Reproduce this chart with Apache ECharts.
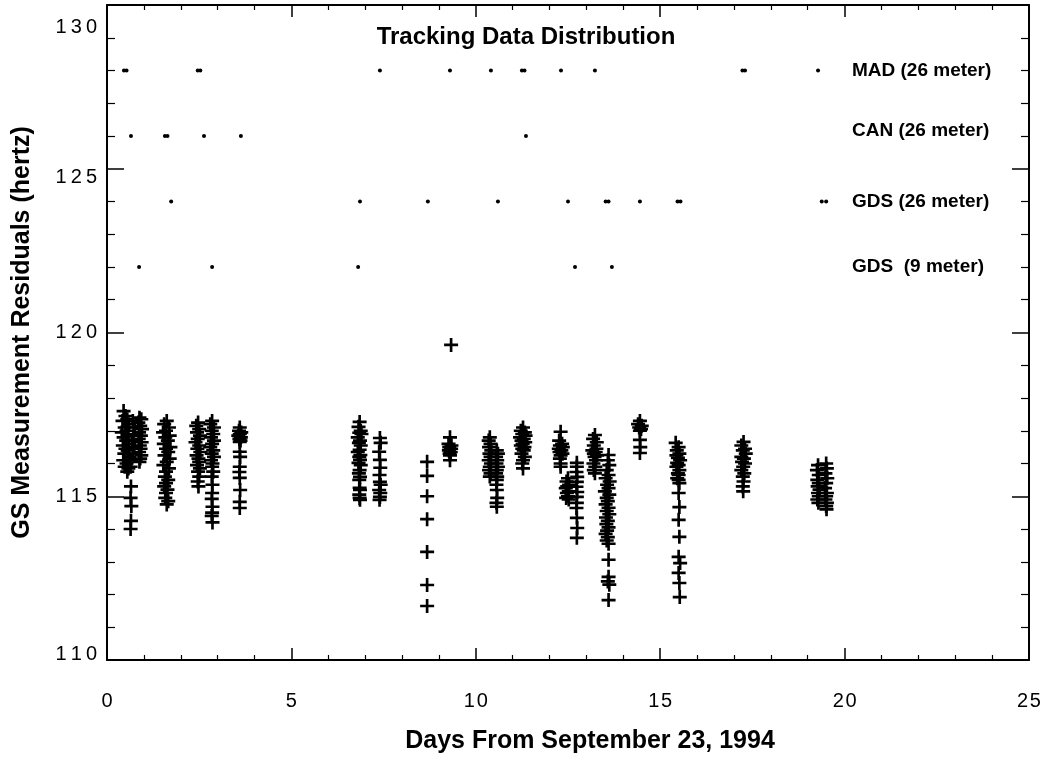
<!DOCTYPE html>
<html>
<head>
<meta charset="utf-8">
<script src="https://cdn.jsdelivr.net/npm/echarts@6/dist/echarts.min.js"></script>
<style>html,body{margin:0;padding:0;background:#fff;}#chart{width:1052px;height:761px;}</style>
</head>
<body>
<div id="chart"></div>
<script>
// ---- Data ----
var chartTitle = 'Tracking Data Distribution';
var xAxisTitle = 'Days From September 23, 1994';
var yAxisTitle = 'GS Measurement Residuals (hertz)';
var xTicks = [0, 5, 10, 15, 20, 25];
var yTicks = [110, 115, 120, 125, 130];

// station rows (dots): day of each pass, row level
var stationNames = ['MAD (26 meter)', 'CAN (26 meter)', 'GDS (26 meter)', 'GDS  (9 meter)'];
var stationLevels = [128, 126, 124, 122];
var stationLabelLevels = [128, 126.15, 124, 122];
var stationLabelDay = 20.2;
var madDays = [0.46, 0.53, 2.46, 2.53, 7.40, 9.30, 10.41, 11.25, 11.32, 12.31, 13.23, 17.23, 17.30, 19.28];
var canDays = [0.65, 1.57, 1.64, 2.63, 3.63, 11.36];
var gds26Days = [1.74, 6.86, 8.70, 10.60, 12.50, 13.52, 13.60, 14.45, 15.47, 15.55, 19.38, 19.50];
var gds9Days = [0.87, 2.85, 6.81, 12.69, 13.69];

// residuals [day, hertz], by pass
var c01 = [[0.45,117.6],[0.5,117.45],[0.55,117.35],[0.42,117.3],[0.6,117.2],[0.48,117.1],[0.53,117.0],[0.4,116.95],[0.58,116.85],[0.45,116.8],[0.52,116.7],[0.6,116.6],[0.43,116.55],[0.5,116.45],[0.56,116.4],[0.47,116.3],[0.6,116.2],[0.44,116.1],[0.53,116.0],[0.48,115.9],[0.58,115.85],[0.55,115.75],
  [0.88,117.4],[0.93,117.35],[0.85,117.25],[0.9,117.15],[0.95,117.05],[0.87,116.95],[0.92,116.85],[0.86,116.75],[0.94,116.65],[0.89,116.55],[0.91,116.45],[0.87,116.35],[0.93,116.25],[0.9,116.15],[0.88,116.05],
  [0.7,117.3],[0.75,117.1],[0.72,116.9],[0.68,116.7],[0.74,116.5],[0.7,116.3],[0.66,116.1],[0.64,115.9],
  [0.65,115.3],[0.64,114.95],[0.66,114.7],[0.65,114.25],[0.64,114.0]];
var c02 = [[1.62,117.3],[1.55,117.2],[1.68,117.1],[1.6,117.0],[1.52,116.95],[1.7,116.85],[1.58,116.8],[1.65,116.7],[1.54,116.6],[1.72,116.5],[1.6,116.45],[1.66,116.35],[1.56,116.25],[1.7,116.15],[1.62,116.05],[1.53,115.95],[1.68,115.85],[1.6,115.75],[1.57,115.6],[1.66,115.5],[1.6,115.4],[1.55,115.3],[1.64,115.2],[1.6,115.1],[1.58,114.95],[1.66,114.85],[1.62,114.75]];
var c03 = [[2.47,117.25],[2.42,117.15],[2.5,117.05],[2.44,116.95],[2.52,116.85],[2.46,116.75],[2.4,116.65],[2.5,116.55],[2.45,116.45],[2.53,116.35],[2.43,116.25],[2.48,116.15],[2.5,116.05],[2.44,115.95],[2.52,115.85],[2.47,115.75],[2.5,115.6],[2.46,115.45],[2.48,115.3]];
var c04 = [[2.85,117.3],[2.8,117.2],[2.9,117.1],[2.84,117.0],[2.88,116.9],[2.82,116.8],[2.9,116.7],[2.85,116.6],[2.8,116.5],[2.88,116.4],[2.84,116.3],[2.9,116.2],[2.82,116.1],[2.86,116.0],[2.85,115.9],[2.88,115.75],[2.84,115.6],[2.86,115.35],[2.85,115.1],[2.84,114.92],[2.86,114.68],[2.85,114.5],[2.84,114.4],[2.86,114.2]];
var c05 = [[3.6,117.1],[3.58,117.0],[3.64,116.95],[3.6,116.9],[3.56,116.85],[3.63,116.8],[3.59,116.75],[3.62,116.7],[3.6,116.66],[3.6,116.36],[3.61,116.2],[3.6,115.9],[3.59,115.74],[3.6,115.56],[3.61,115.19],[3.6,114.83],[3.6,114.64]];
var c06 = [[6.85,117.27],[6.82,117.12],[6.88,117.0],[6.84,116.94],[6.9,116.9],[6.8,116.8],[6.86,116.7],[6.83,116.63],[6.88,116.55],[6.85,116.42],[6.8,116.35],[6.87,116.26],[6.84,116.2],[6.86,116.11],[6.82,116.02],[6.88,115.95],[6.85,115.8],[6.83,115.7],[6.86,115.59],[6.84,115.5],[6.85,115.26],[6.86,115.19],[6.84,115.05],[6.85,114.95],[6.86,114.89]];
var c07 = [[7.4,116.78],[7.42,116.63],[7.38,116.36],[7.4,116.11],[7.41,115.87],[7.39,115.65],[7.4,115.44],[7.42,115.35],[7.38,115.19],[7.41,115.1],[7.4,114.98],[7.39,114.89]];
var c08 = [[8.68,116.05],[8.68,115.62],[8.68,115.0],[8.68,114.3],[8.68,113.3],[8.68,112.29],[8.68,111.65]];
var c09 = [[9.33,119.62],[9.3,116.8],[9.26,116.6],[9.34,116.55],[9.28,116.5],[9.33,116.45],[9.27,116.4],[9.32,116.35],[9.29,116.3],[9.3,116.25],[9.3,116.1]];
var c10 = [[10.38,116.8],[10.35,116.7],[10.4,116.6],[10.36,116.5],[10.42,116.4],[10.37,116.3],[10.4,116.2],[10.35,116.1],[10.41,116.0],[10.38,115.9],[10.36,115.8],[10.4,115.7],[10.38,115.6],
  [10.57,116.4],[10.6,116.3],[10.55,116.2],[10.58,116.1],[10.56,116.0],[10.6,115.9],[10.57,115.8],[10.55,115.7],[10.58,115.6],[10.57,115.5],[10.56,115.35],[10.57,115.19],[10.58,114.95],[10.56,114.8],[10.57,114.68]];
var c11 = [[11.28,117.1],[11.22,117.0],[11.33,116.95],[11.26,116.9],[11.35,116.85],[11.2,116.8],[11.3,116.75],[11.24,116.7],[11.34,116.65],[11.27,116.6],[11.22,116.55],[11.32,116.5],[11.26,116.45],[11.3,116.4],[11.24,116.3],[11.33,116.2],[11.28,116.1],[11.26,116.0],[11.28,115.85]];
var c12 = [[12.3,116.97],[12.26,116.7],[12.34,116.6],[12.28,116.55],[12.36,116.5],[12.25,116.45],[12.32,116.4],[12.27,116.35],[12.35,116.3],[12.3,116.25],[12.28,116.15],[12.3,116.0],[12.3,115.9]];
var c13 = [[12.5,115.55],[12.46,115.45],[12.53,115.35],[12.48,115.3],[12.44,115.25],[12.52,115.15],[12.47,115.1],[12.5,115.0],[12.45,114.95],[12.52,114.9],
  [12.74,116.02],[12.74,115.9],[12.73,115.74],[12.75,115.59],[12.74,115.44],[12.73,115.29],[12.75,115.13],[12.74,114.98],[12.74,114.8],[12.73,114.64],[12.74,114.34],[12.75,114.03],[12.74,113.73]];
var c14 = [[13.23,116.87],[13.18,116.75],[13.28,116.65],[13.2,116.55],[13.27,116.45],[13.16,116.4],[13.25,116.35],[13.2,116.3],[13.29,116.25],[13.22,116.2],[13.26,116.1],[13.19,116.0],[13.24,115.9],[13.2,115.8],[13.23,115.7]];
var c15 = [[13.6,116.26],[13.58,116.1],[13.62,115.95],[13.55,115.8],[13.6,115.65],[13.52,115.55],[13.63,115.45],[13.56,115.35],[13.6,115.25],[13.5,115.15],[13.62,115.05],[13.55,114.95],[13.58,114.85],[13.52,114.75],[13.6,114.65],[13.55,114.55],[13.62,114.45],[13.53,114.35],[13.58,114.25],[13.54,114.15],[13.6,114.05],[13.56,113.95],[13.52,113.85],[13.58,113.75],[13.55,113.65],[13.6,113.55],[13.6,113.06],[13.6,112.54],[13.58,112.4],[13.62,112.3],[13.6,111.83]];
var c16 = [[14.45,117.3],[14.4,117.2],[14.5,117.15],[14.43,117.1],[14.48,117.05],[14.45,117.0],[14.45,116.72],[14.46,116.5],[14.45,116.32]];
var c17 = [[15.42,116.63],[15.5,116.5],[15.45,116.4],[15.52,116.3],[15.44,116.25],[15.48,116.17],[15.54,116.1],[15.46,116.02],[15.5,115.95],[15.44,115.9],[15.52,115.8],[15.48,115.7],[15.5,115.65],[15.46,115.55],[15.5,115.5],[15.52,115.4],[15.5,115.1],[15.52,114.67],[15.5,114.28],[15.52,113.76],[15.5,113.15],[15.54,112.96],[15.5,112.66],[15.52,112.35],[15.53,111.92]];
var c18 = [[17.26,116.66],[17.2,116.55],[17.3,116.45],[17.24,116.4],[17.32,116.3],[17.2,116.2],[17.27,116.15],[17.22,116.05],[17.3,116.0],[17.25,115.9],[17.2,115.8],[17.28,115.7],[17.24,115.6],[17.26,115.45],[17.24,115.3],[17.25,115.15]];
var c19 = [[19.28,115.95],[19.25,115.8],[19.3,115.65],[19.26,115.5],[19.3,115.4],[19.27,115.3],[19.32,115.2],[19.28,115.1],[19.3,115.0],[19.26,114.9],[19.29,114.8],
  [19.5,116.0],[19.52,115.85],[19.48,115.7],[19.53,115.55],[19.5,115.4],[19.47,115.25],[19.52,115.1],[19.5,115.0],[19.48,114.9],[19.52,114.8],[19.5,114.7],[19.51,114.6]];

// ---- Build ----
var residuals = [].concat(c01,c02,c03,c04,c05,c06,c07,c08,c09,c10,c11,c12,c13,c14,c15,c16,c17,c18,c19);
var stationDayLists = [madDays, canDays, gds26Days, gds9Days];
var dots = [];
stationDayLists.forEach(function (list, i) {
  list.forEach(function (d) { dots.push([d, stationLevels[i]]); });
});
var labelPts = stationNames.map(function (n, i) { return { value: [stationLabelDay, stationLabelLevels[i]], name: n }; });

var FONT = '"Liberation Sans", Arial, Helvetica, sans-serif';
function spacedY(v) { return String(v).split('').join('\u2009'); }
function spacedX(v) { return String(v).split('').join('\u200A'); }
var PLUS = 'path://M-1,-0.19L1,-0.19L1,0.19L-1,0.19Z M-0.19,-1L0.19,-1L0.19,1L-0.19,1Z';

var lineBlack = { color: '#000', width: 2 };
var labelBase = { fontSize: 20, fontFamily: FONT, color: '#000' };
var majorTickX = { show: true, inside: true, length: 12, lineStyle: { color: '#000', width: 1.5 } };
var minorTickX = { show: true, splitNumber: 5, length: 5, lineStyle: { color: '#000', width: 1.2 } };
var majorTickY = { show: true, inside: true, length: 17, lineStyle: { color: '#000', width: 1.5 } };
var minorTickY = { show: true, splitNumber: 5, length: 8, lineStyle: { color: '#000', width: 1.2 } };

var chart = echarts.init(document.getElementById('chart'), null, { renderer: 'canvas' });
chart.setOption({
  animation: false,
  backgroundColor: '#fff',
  title: {
    text: chartTitle, left: 'center', top: 25, padding: 0,
    textStyle: { fontSize: 24, fontWeight: 'bold', fontFamily: FONT, color: '#000' }
  },
  grid: { left: 107, right: 23, top: 5, bottom: 101, containLabel: false },
  xAxis: [{
    type: 'value', min: xTicks[0], max: xTicks[xTicks.length - 1], interval: 5, position: 'bottom',
    axisLine: { show: true, onZero: false, lineStyle: lineBlack },
    axisTick: majorTickX, minorTick: minorTickX,
    splitLine: { show: false },
    axisLabel: { margin: 31, fontSize: 20, fontFamily: FONT, color: '#000', formatter: spacedX },
    name: xAxisTitle, nameLocation: 'middle', nameGap: 69,
    nameTextStyle: { fontSize: 25, fontWeight: 'bold', fontFamily: FONT, color: '#000', padding: [0, 0, 0, 44] }
  }, {
    type: 'value', min: xTicks[0], max: xTicks[xTicks.length - 1], interval: 5, position: 'top',
    axisLine: { show: true, onZero: false, lineStyle: lineBlack },
    axisTick: majorTickX, minorTick: minorTickX,
    splitLine: { show: false }, axisLabel: { show: false }
  }],
  yAxis: [{
    type: 'value', min: yTicks[0], max: yTicks[yTicks.length - 1], interval: 5, position: 'left',
    axisLine: { show: true, onZero: false, lineStyle: lineBlack },
    axisTick: majorTickY, minorTick: minorTickY,
    splitLine: { show: false },
    axisLabel: {
      margin: 10, fontSize: 20, fontFamily: FONT, color: '#000',
      formatter: function (v) {
        var s = spacedY(v);
        if (v === 130) return '{d22|' + s + '}';
        if (v === 125) return '{d9|' + s + '}';
        if (v === 110) return '{u6|' + s + '}';
        return '{n|' + s + '}';
      },
      rich: {
        n: labelBase,
        d22: Object.assign({ padding: [44, 0, 0, 0] }, labelBase),
        d9: Object.assign({ padding: [18, 0, 0, 0] }, labelBase),
        u6: Object.assign({ padding: [0, 0, 12, 0] }, labelBase)
      }
    },
    name: yAxisTitle, nameLocation: 'middle', nameGap: 72,
    nameTextStyle: { fontSize: 25, fontWeight: 'bold', fontFamily: FONT, color: '#000' }
  }, {
    type: 'value', min: yTicks[0], max: yTicks[yTicks.length - 1], interval: 5, position: 'right',
    axisLine: { show: true, onZero: false, lineStyle: lineBlack },
    axisTick: majorTickY, minorTick: minorTickY,
    splitLine: { show: false }, axisLabel: { show: false }
  }],
  series: [{
    name: 'residuals', type: 'scatter', xAxisIndex: 0, yAxisIndex: 0,
    data: residuals, symbol: PLUS, symbolSize: 14, silent: true,
    itemStyle: { color: '#000', opacity: 1 }
  }, {
    name: 'stations', type: 'scatter', xAxisIndex: 0, yAxisIndex: 0,
    data: dots, symbol: 'circle', symbolSize: 4, silent: true,
    itemStyle: { color: '#000', opacity: 1 }
  }, {
    name: 'stationLabels', type: 'scatter', xAxisIndex: 0, yAxisIndex: 0,
    data: labelPts, symbolSize: 0, silent: true,
    itemStyle: { color: '#000', opacity: 1 },
    label: {
      show: true, position: 'right', distance: 0, formatter: '{b}', opacity: 1,
      fontSize: 19, fontWeight: 'bold', fontFamily: FONT, color: '#000'
    }
  }]
});
</script>
</body>
</html>
